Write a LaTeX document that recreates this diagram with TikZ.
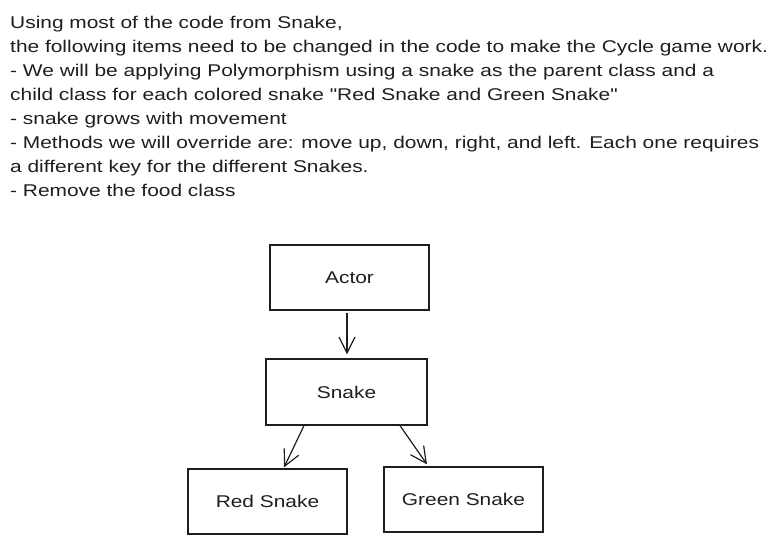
\documentclass[tikz,border=0pt]{standalone}
\usepackage{fontspec}
\setmainfont[FakeStretch=1.23,Ligatures=TeXOff]{Liberation Sans}
\usetikzlibrary{arrows.meta,calc}
\definecolor{ink}{HTML}{1E1E1E}
\tikzset{
  txt/.style={anchor=base west,inner sep=0pt,text=ink,font=\fontsize{17}{20}\selectfont},
  cls/.style={draw=ink,line width=1.2pt,minimum width=159pt,minimum height=65pt,inner sep=0pt,text=ink,font=\fontsize{17}{20}\selectfont},
  link/.style={draw=ink,line width=1.2pt,-{Straight Barb[length=16pt,width=16pt,line width=1.2pt]}}
}
\begin{document}
\begin{tikzpicture}[x=1pt,y=-1pt]
\useasboundingbox (0,0) rectangle (779,544);
\node[txt] (l1) at (10,28) {Using most of the code from Snake,};
\node[txt] (l2) at (10,52) {the following items need to be changed in the code to make the Cycle game work.};
\node[txt] (l3) at (10,76) {- We will be applying Polymorphism using a snake as the parent class and a};
\node[txt] (l4) at (10,100) {child class for each colored snake "Red Snake and Green Snake"};
\node[txt] (l5) at (10,124) {- snake grows with movement};
\node[txt] (l6) at (10,148) {- Methods we will override are: move up, down, right, and left. Each one requires};
\node[txt] (l7) at (10,172) {a different key for the different Snakes.};
\node[txt] (l8) at (10,196) {- Remove the food class};
\node[cls] (actor) at (349.5,277.5) {Actor};
\node[cls,minimum width=161pt,minimum height=66pt] (snake) at (346.5,392) {Snake};
\node[cls] (red) at (267.5,501.5) {Red Snake};
\node[cls] (green) at (463.5,499.5) {Green Snake};
\draw[link] ($(actor.south)+(-2.5,2)$) -- ($(snake.north)+(0.5,-4)$);
\draw[link] ($(snake.south)+(-42.5,0)$) -- ($(red.north)+(16.5,-1)$);
\draw[link] ($(snake.south)+(53.5,0)$) -- ($(green.north)+(-36.5,-2)$);
\end{tikzpicture}
\end{document}
